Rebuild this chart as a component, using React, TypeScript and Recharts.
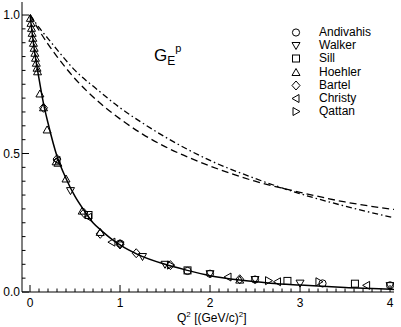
import * as React from "react"
import {ComposedChart, Line, Scatter, XAxis, YAxis} from "recharts"

// fit curves
const fitSolid = [
    {x: 0, y: 1.0}, {x: 0.05, y: 0.87}, {x: 0.1, y: 0.77}, {x: 0.15, y: 0.68}, {x: 0.2, y: 0.61},
    {x: 0.3, y: 0.49}, {x: 0.4, y: 0.41}, {x: 0.5, y: 0.345}, {x: 0.6, y: 0.295}, {x: 0.7, y: 0.25},
    {x: 0.8, y: 0.22}, {x: 0.9, y: 0.193}, {x: 1.0, y: 0.17}, {x: 1.2, y: 0.135}, {x: 1.5, y: 0.1},
    {x: 1.75, y: 0.078}, {x: 2.0, y: 0.059}, {x: 2.33, y: 0.043}, {x: 2.67, y: 0.032}, {x: 3.0, y: 0.025},
    {x: 3.5, y: 0.016}, {x: 4.0, y: 0.01}, {x: 4.044, y: 0.009},
]
const fitDashed = [
    {x: 0, y: 1.0}, {x: 0.1, y: 0.945}, {x: 0.2, y: 0.895}, {x: 0.3, y: 0.85}, {x: 0.5, y: 0.77},
    {x: 0.75, y: 0.69}, {x: 1.0, y: 0.625}, {x: 1.25, y: 0.57}, {x: 1.5, y: 0.525}, {x: 2.0, y: 0.455},
    {x: 2.5, y: 0.4}, {x: 3.0, y: 0.36}, {x: 3.5, y: 0.325}, {x: 4.044, y: 0.298},
]
const fitDashDot = [
    {x: 0, y: 1.0}, {x: 0.1, y: 0.955}, {x: 0.2, y: 0.915}, {x: 0.3, y: 0.875}, {x: 0.5, y: 0.8},
    {x: 0.75, y: 0.73}, {x: 1.0, y: 0.665}, {x: 1.25, y: 0.61}, {x: 1.5, y: 0.56}, {x: 2.0, y: 0.475},
    {x: 2.5, y: 0.41}, {x: 3.0, y: 0.355}, {x: 3.5, y: 0.31}, {x: 4.044, y: 0.268},
]

// data sets
const andivahis = [
    {x: 1.0, y: 0.175}, {x: 1.75, y: 0.076}, {x: 2.0, y: 0.066}, {x: 2.5, y: 0.045},
    {x: 3.25, y: 0.031}, {x: 4.0, y: 0.024},
]
const walker = [
    {x: 0.45, y: 0.366}, {x: 1.0, y: 0.17}, {x: 1.25, y: 0.128}, {x: 1.5, y: 0.1}, {x: 2.0, y: 0.066},
    {x: 2.5, y: 0.045}, {x: 3.0, y: 0.032}, {x: 4.0, y: 0.023},
]
const sill = [
    {x: 0.65, y: 0.278}, {x: 1.75, y: 0.078}, {x: 2.86, y: 0.04}, {x: 3.61, y: 0.03},
]
const hoehler = [
    {x: 0.004, y: 0.988}, {x: 0.011, y: 0.97}, {x: 0.017, y: 0.952}, {x: 0.024, y: 0.934},
    {x: 0.031, y: 0.916}, {x: 0.038, y: 0.898}, {x: 0.046, y: 0.88}, {x: 0.054, y: 0.862},
    {x: 0.061, y: 0.844}, {x: 0.07, y: 0.826}, {x: 0.078, y: 0.808}, {x: 0.084, y: 0.795},
    {x: 0.11, y: 0.715}, {x: 0.15, y: 0.665}, {x: 0.19, y: 0.585}, {x: 0.29, y: 0.47},
    {x: 0.31, y: 0.465}, {x: 0.4, y: 0.408}, {x: 0.58, y: 0.292}, {x: 0.78, y: 0.215},
    {x: 2.33, y: 0.043},
]
const bartel = [
    {x: 0.15, y: 0.665}, {x: 0.3, y: 0.48}, {x: 0.6, y: 0.285}, {x: 0.78, y: 0.21}, {x: 1.0, y: 0.172},
    {x: 1.18, y: 0.14}, {x: 1.56, y: 0.097}, {x: 2.33, y: 0.046},
]
const christy = [
    {x: 0.3, y: 0.475}, {x: 0.65, y: 0.27}, {x: 0.91, y: 0.18}, {x: 2.2, y: 0.054},
    {x: 2.75, y: 0.037}, {x: 3.74, y: 0.024},
]
const qattan = [
    {x: 1.56, y: 0.097}, {x: 2.65, y: 0.041}, {x: 3.21, y: 0.037},
]

const xTicks = [
    0, 0.1, 0.2, 0.3, 0.4, 0.5, 0.6, 0.7, 0.8, 0.9, 1, 1.1, 1.2, 1.3, 1.4, 1.5, 1.6, 1.7, 1.8, 1.9,
    2, 2.1, 2.2, 2.3, 2.4, 2.5, 2.6, 2.7, 2.8, 2.9, 3, 3.1, 3.2, 3.3, 3.4, 3.5, 3.6, 3.7, 3.8, 3.9, 4,
]
const xLabels: Record<string, string> = {"0": "0", "1": "1", "2": "2", "3": "3", "4": "4"}
const yTicks = [
    0, 0.05, 0.1, 0.15, 0.2, 0.25, 0.3, 0.35, 0.4, 0.45, 0.5, 0.55, 0.6, 0.65, 0.7, 0.75, 0.8,
    0.85, 0.9, 0.95, 1.0,
]
const yLabels: Record<string, string> = {"0": "0.0", "0.5": "0.5", "1": "1.0"}

const legendItems = [
    {name: "Andivahis", kind: "circle"},
    {name: "Walker", kind: "down"},
    {name: "Sill", kind: "square"},
    {name: "Hoehler", kind: "up"},
    {name: "Bartel", kind: "diamond"},
    {name: "Christy", kind: "left"},
    {name: "Qattan", kind: "right"},
]

const FONT = "'Liberation Sans', Arial, Helvetica, sans-serif"
const MAJOR = 7
const MINOR = 3.5

function Marker({kind, cx, cy}: { kind: string, cx: number, cy: number }) {
    const p = {fill: "none", stroke: "#000", strokeWidth: 1}
    switch (kind) {
        case "circle":
            return <circle cx={cx} cy={cy} r={3.6} {...p}/>
        case "down":
            return <path d={`M${cx - 4},${cy - 3}L${cx + 4},${cy - 3}L${cx},${cy + 4}Z`} {...p}/>
        case "up":
            return <path d={`M${cx - 4},${cy + 3}L${cx + 4},${cy + 3}L${cx},${cy - 4}Z`} {...p}/>
        case "square":
            return <rect x={cx - 3.5} y={cy - 3.5} width={7} height={7} {...p}/>
        case "diamond":
            return <path d={`M${cx},${cy - 4.5}L${cx + 4},${cy}L${cx},${cy + 4.5}L${cx - 4},${cy}Z`} {...p}/>
        case "left":
            return <path d={`M${cx + 3},${cy - 4}L${cx + 3},${cy + 4}L${cx - 4},${cy}Z`} {...p}/>
        default:
            return <path d={`M${cx - 3},${cy - 4}L${cx - 3},${cy + 4}L${cx + 4},${cy}Z`} {...p}/>
    }
}

const shapeOf = (kind: string) => (props: any) => <Marker kind={kind} cx={props.cx} cy={props.cy}/>

const isMajorX = (v: number) => Math.abs(v - Math.round(v)) < 1e-9
const isMajorY = (v: number) => Math.abs(v * 2 - Math.round(v * 2)) < 1e-9

function BottomTick(props: any) {
    const {x, y, payload} = props
    const v = payload.value
    const major = isMajorX(v)
    return (
        <g>
            <line x1={x} x2={x} y1={y} y2={y - (major ? MAJOR : MINOR)} stroke="#000"/>
            {major && <text x={x} y={y + 15} textAnchor="middle" fontSize={12} fontFamily={FONT}>
                {xLabels[String(Math.round(v))]}
            </text>}
        </g>
    )
}

function TopTick(props: any) {
    const {x, y, payload} = props
    const major = isMajorX(payload.value)
    return <line x1={x} x2={x} y1={y} y2={y + (major ? MAJOR : MINOR)} stroke="#000"/>
}

function LeftTick(props: any) {
    const {x, y, payload} = props
    const v = payload.value
    const major = isMajorY(v)
    return (
        <g>
            <line x1={x} x2={x + (major ? MAJOR : MINOR)} y1={y} y2={y} stroke="#000"/>
            {major && <text x={x - 2} y={y + 4} textAnchor="end" fontSize={12} fontFamily={FONT}>
                {yLabels[String(Math.round(v * 2) / 2)]}
            </text>}
        </g>
    )
}

function RightTick(props: any) {
    const {x, y, payload} = props
    const major = isMajorY(payload.value)
    return <line x1={x} x2={x - (major ? MAJOR : MINOR)} y1={y} y2={y} stroke="#000"/>
}

const X_DOMAIN: [number, number] = [-0.089, 4.044]
const Y_DOMAIN: [number, number] = [0, 1.047]

export default function App() {
    return (
        <div style={{position: "absolute", left: 0, top: 0, width: 401, height: 327, fontFamily: FONT}}>
            <ComposedChart width={401} height={327} margin={{top: 2, right: 7, bottom: 0, left: 0}}>
                <XAxis xAxisId="b" dataKey="x" type="number" domain={X_DOMAIN} allowDataOverflow
                       ticks={xTicks} interval={0} tick={<BottomTick/>} tickLine={false} tickSize={0}
                       tickMargin={0} height={35} axisLine={{stroke: "#000"}}/>
                <XAxis xAxisId="t" orientation="top" dataKey="x" type="number" domain={X_DOMAIN}
                       allowDataOverflow ticks={xTicks} interval={0} tick={<TopTick/>} tickLine={false}
                       tickSize={0} tickMargin={0} height={0} axisLine={{stroke: "#000"}}/>
                <YAxis yAxisId="l" dataKey="y" type="number" domain={Y_DOMAIN} allowDataOverflow
                       ticks={yTicks} interval={0} tick={<LeftTick/>} tickLine={false} tickSize={0}
                       tickMargin={0} width={22} axisLine={{stroke: "#000"}}/>
                <YAxis yAxisId="r" orientation="right" dataKey="y" type="number" domain={Y_DOMAIN}
                       allowDataOverflow ticks={yTicks} interval={0} tick={<RightTick/>} tickLine={false}
                       tickSize={0} tickMargin={0} width={0} axisLine={{stroke: "#000"}}/>

                <Line xAxisId="b" yAxisId="l" data={fitDashDot} dataKey="y" type="monotone" stroke="#000"
                      strokeWidth={1.3} strokeDasharray="6 3 1.5 3" dot={false} isAnimationActive={false}/>
                <Line xAxisId="b" yAxisId="l" data={fitDashed} dataKey="y" type="monotone" stroke="#000"
                      strokeWidth={1.3} strokeDasharray="7 4" dot={false} isAnimationActive={false}/>
                <Line xAxisId="b" yAxisId="l" data={fitSolid} dataKey="y" type="monotone" stroke="#000"
                      strokeWidth={1.5} dot={false} isAnimationActive={false}/>

                <Scatter xAxisId="b" yAxisId="l" name="Andivahis" data={andivahis} shape={shapeOf("circle")} isAnimationActive={false}/>
                <Scatter xAxisId="b" yAxisId="l" name="Walker" data={walker} shape={shapeOf("down")} isAnimationActive={false}/>
                <Scatter xAxisId="b" yAxisId="l" name="Sill" data={sill} shape={shapeOf("square")} isAnimationActive={false}/>
                <Scatter xAxisId="b" yAxisId="l" name="Hoehler" data={hoehler} shape={shapeOf("up")} isAnimationActive={false}/>
                <Scatter xAxisId="b" yAxisId="l" name="Bartel" data={bartel} shape={shapeOf("diamond")} isAnimationActive={false}/>
                <Scatter xAxisId="b" yAxisId="l" name="Christy" data={christy} shape={shapeOf("left")} isAnimationActive={false}/>
                <Scatter xAxisId="b" yAxisId="l" name="Qattan" data={qattan} shape={shapeOf("right")} isAnimationActive={false}/>
            </ComposedChart>

            {/* G_E^p label */}
            <div style={{position: "absolute", left: 154, top: 46, fontSize: 17, lineHeight: "20px", whiteSpace: "nowrap"}}>
                G<span style={{fontSize: 12, position: "relative", top: 4}}>E</span>
                <span style={{fontSize: 11, position: "relative", top: -9}}>p</span>
            </div>

            {/* legend */}
            <div style={{position: "absolute", left: 288, top: 26, fontSize: 12}}>
                {legendItems.map((it) => (
                    <div key={it.name} style={{display: "flex", alignItems: "center", height: 13.2}}>
                        <svg width={16} height={13} style={{display: "block"}}>
                            <Marker kind={it.kind} cx={8} cy={6.5}/>
                        </svg>
                        <span style={{marginLeft: 15, lineHeight: "13px"}}>{it.name}</span>
                    </div>
                ))}
            </div>

            {/* x axis title */}
            <div style={{position: "absolute", left: 177, top: 311, fontSize: 12, whiteSpace: "nowrap", lineHeight: "14px"}}>
                Q<sup style={{fontSize: 8, verticalAlign: 0, position: "relative", top: -5}}>2</sup> [(GeV/c)<sup
                style={{fontSize: 8, verticalAlign: 0, position: "relative", top: -5}}>2</sup>]
            </div>
        </div>
    )
}
